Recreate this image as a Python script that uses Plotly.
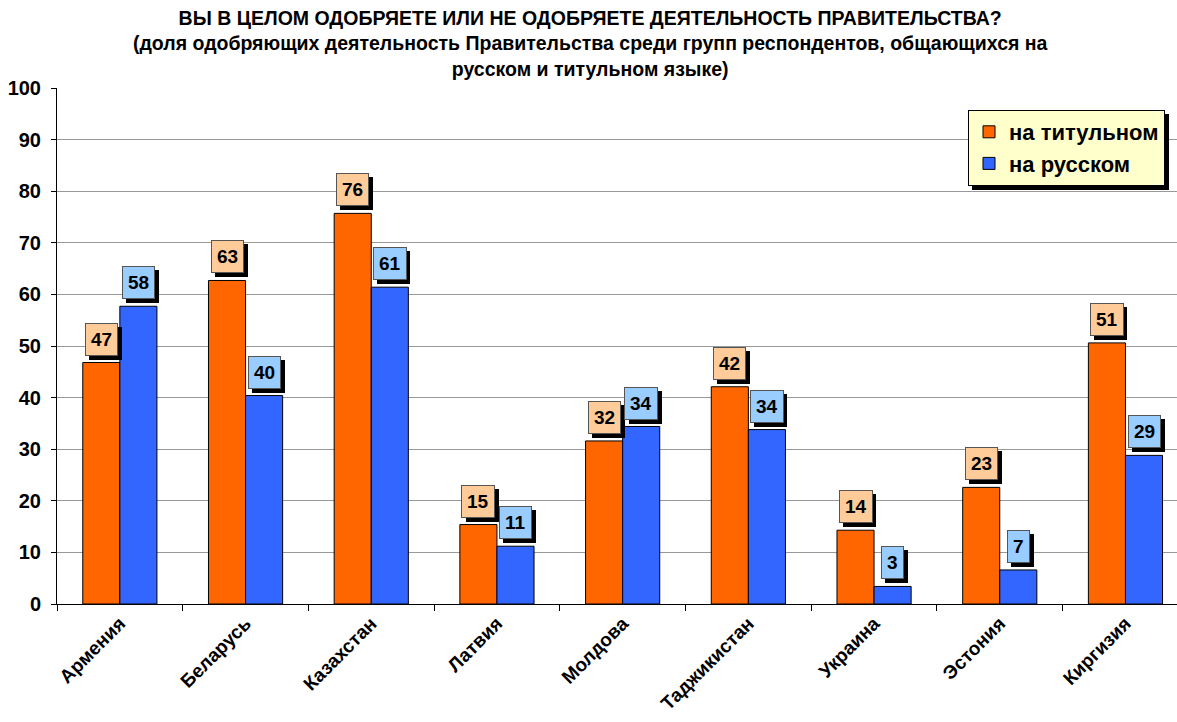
import plotly.graph_objects as go

categories = ["Армения", "Беларусь", "Казахстан", "Латвия", "Молдова",
              "Таджикистан", "Украина", "Эстония", "Киргизия"]
titular = [46.8, 62.7, 75.7, 15.4, 31.6, 42.1, 14.3, 22.6, 50.6]
russian = [57.7, 40.4, 61.4, 11.2, 34.4, 33.8, 3.4, 6.6, 28.8]
titular_labels = ["47", "63", "76", "15", "32", "42", "14", "23", "51"]
russian_labels = ["58", "40", "61", "11", "34", "34", "3", "7", "29"]

FONT = "Liberation Sans, Arial, sans-serif"
ORANGE = "#FF6600"
BLUE = "#3366FF"

fig = go.Figure()
fig.add_trace(go.Bar(x=categories, y=titular, name="на титульном",
                     marker=dict(color=ORANGE, line=dict(color="black", width=1))))
fig.add_trace(go.Bar(x=categories, y=russian, name="на русском",
                     marker=dict(color=BLUE, line=dict(color="black", width=1))))

L, R, T, B = 57, 0, 88, 118
W, H = 1177, 722
pw, ph = W - L - R, H - T - B

def px_x(p):
    return (p - L) / pw

def px_y(p):
    return (H - B - p) / ph

half = 0.59 / 4
anns = []
for i in range(len(categories)):
    for val, lab, off, bg in ((titular[i], titular_labels[i], -half, "#FFCC99"),
                              (russian[i], russian_labels[i], half, "#99CCFF")):
        # shadow box (figure spaces keep the same width as the digits)
        anns.append(dict(x=i + off, y=val, xref="x", yref="y",
                         text="<b>" + "\u2007" * len(lab) + "</b>",
                         showarrow=False, yanchor="bottom", xanchor="center",
                         xshift=4, yshift=3, bgcolor="black", bordercolor="black",
                         borderwidth=1, borderpad=5,
                         font=dict(family=FONT, size=19, color="black")))
        anns.append(dict(x=i + off, y=val, xref="x", yref="y", text=f"<b>{lab}</b>",
                         showarrow=False, yanchor="bottom", xanchor="center",
                         xshift=0, yshift=7, bgcolor=bg, bordercolor="#555555",
                         borderwidth=1, borderpad=5,
                         font=dict(family=FONT, size=19, color="black")))

title_text = ("<b>ВЫ В ЦЕЛОМ ОДОБРЯЕТЕ ИЛИ НЕ ОДОБРЯЕТЕ ДЕЯТЕЛЬНОСТЬ ПРАВИТЕЛЬСТВА?<br>"
              "(доля одобряющих деятельность Правительства среди групп респондентов, общающихся на<br>"
              "русском и титульном языке)</b>")
# title placed in plot-area paper coordinates, computed from pixel positions
anns.append(dict(text=title_text, x=(590 - L) / pw, y=(H - B - 5) / ph,
                 xref="paper", yref="paper",
                 xanchor="center", yanchor="top", showarrow=False, align="center",
                 font=dict(family=FONT, size=19.5, color="black")))

shapes = [dict(type="rect", xref="paper", yref="paper",
               x0=px_x(972), x1=px_x(1169), y0=px_y(190), y1=px_y(114),
               fillcolor="black", line=dict(width=0), layer="above")]

fig.update_layout(
    width=W, height=H,
    margin=dict(l=L, r=R, t=T, b=B),
    paper_bgcolor="white", plot_bgcolor="white",
    barmode="group", bargap=0.41, bargroupgap=0,
    font=dict(family=FONT, color="black"),
    xaxis=dict(range=[-0.5, 8.41], tickson="boundaries", ticks="outside",
               ticklen=6, tickcolor="black", showline=True, linecolor="black",
               linewidth=1, tickangle=-45,
               tickfont=dict(family=FONT, size=19, color="black", weight="bold")),
    yaxis=dict(range=[0, 100], dtick=10, ticks="outside", ticklen=5,
               tickcolor="black", showline=True, linecolor="black", linewidth=1,
               showgrid=True, gridcolor="#999999", gridwidth=1, zeroline=False,
               ticklabelstandoff=6,
               tickfont=dict(family=FONT, size=20, color="black", weight="bold")),
    legend=dict(x=px_x(968), y=px_y(110), xanchor="left", yanchor="top",
                bgcolor="#FFFFCC", bordercolor="black", borderwidth=1,
                font=dict(family=FONT, size=22, color="black", weight="bold"),
                itemwidth=30, tracegroupgap=0),
    annotations=anns,
    shapes=shapes,
)

fig.write_html("out.html")
